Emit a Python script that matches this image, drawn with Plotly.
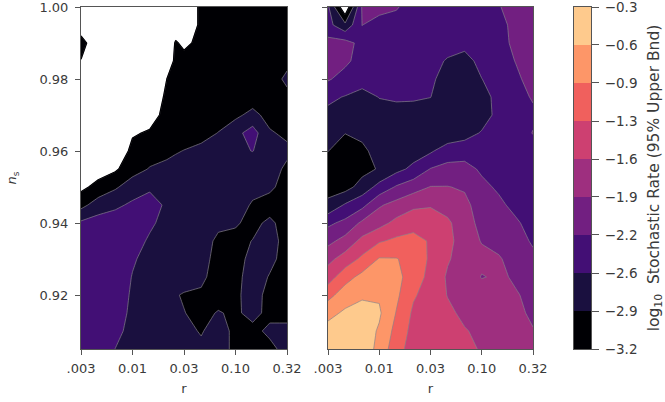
import plotly.graph_objects as go

r_ticks = [-2.5, -2.0, -1.5, -1.0, -0.5]
r_labels = [".003", "0.01", "0.03", "0.10", "0.32"]
ns_ticks = [0.92, 0.94, 0.96, 0.98, 1.00]
ns_labels = ["0.92", "0.94", "0.96", "0.98", "1.00"]
cbar_levels = [-3.2, -2.878, -2.556, -2.233, -1.911, -1.589, -1.267, -0.944, -0.622, -0.3]
cbar_labels = ["−3.2", "−2.9", "−2.6", "−2.2", "−1.9", "−1.6", "−1.3", "−0.9", "−0.6", "−0.3"]
band_colors = ["#000004", "#1a103f", "#420f75", "#721f81", "#9e2f7f", "#cd4071", "#f1605d", "#fd9668", "#feca8d"]

ns_rows = [0.905, 0.91, 0.915, 0.92, 0.925, 0.93, 0.935, 0.94, 0.945, 0.95,
           0.955, 0.96, 0.965, 0.97, 0.975, 0.98, 0.985, 0.99, 0.995, 1.0]

r_left = [-2.5, -2.333, -2.167, -2.0, -1.833, -1.667, -1.581, -1.5, -1.333, -1.167, -1.0, -0.833, -0.667, -0.5]
z_left_cols = [
    [-2.35, -2.35, -2.35, -2.35, -2.35, -2.35, -2.37, -2.5, -2.98, -3.28, -3.5, -3.5, -3.5, -3.5, -3.5, -3.5, -3.22, -3.0, -3.5, -3.6],
    [-2.35, -2.35, -2.35, -2.35, -2.35, -2.35, -2.35, -2.42, -2.72, -3.1, -3.35, -3.6, -3.6, -3.6, -3.6, -3.6, -3.6, -3.6, -3.6, -3.6],
    [-2.56, -2.45, -2.4, -2.38, -2.36, -2.35, -2.35, -2.38, -2.62, -2.92, -3.25, -3.6, -3.6, -3.6, -3.6, -3.6, -3.6, -3.6, -3.6, -3.6],
    [-2.72, -2.68, -2.63, -2.6, -2.57, -2.52, -2.42, -2.4, -2.5, -2.72, -3.0, -3.07, -3.25, -3.6, -3.6, -3.6, -3.6, -3.6, -3.6, -3.6],
    [-2.8, -2.75, -2.72, -2.7, -2.68, -2.66, -2.6, -2.5, -2.44, -2.6, -2.86, -3.0, -3.15, -3.4, -3.6, -3.6, -3.6, -3.6, -3.6, -3.6],
    [-2.82, -2.8, -2.78, -2.76, -2.72, -2.7, -2.68, -2.66, -2.6, -2.65, -2.8, -2.95, -3.0, -3.05, -3.1, -3.2, -3.5, -3.6, -3.6, -3.6],
    [-2.78, -2.78, -2.82, -2.86, -2.76, -2.72, -2.7, -2.67, -2.63, -2.67, -2.78, -2.9, -3.0, -3.02, -3.04, -3.06, -3.1, -3.15, -3.5, -3.6],
    [-2.75, -2.8, -2.87, -2.9, -2.75, -2.72, -2.7, -2.68, -2.65, -2.68, -2.75, -2.87, -3.0, -3.03, -3.05, -3.07, -3.05, -3.3, -3.6, -3.6],
    [-2.82, -2.9, -2.95, -2.92, -2.82, -2.75, -2.72, -2.7, -2.66, -2.67, -2.72, -2.8, -2.98, -3.0, -3.02, -3.03, -3.05, -3.08, -3.1, -3.1],
    [-2.75, -2.75, -2.86, -2.98, -3.0, -3.0, -2.95, -2.8, -2.72, -2.7, -2.68, -2.66, -2.87, -3.0, -3.02, -3.03, -3.04, -3.05, -3.06, -3.06],
    [-2.95, -2.95, -2.92, -2.95, -2.98, -3.0, -2.95, -2.85, -2.7, -2.65, -2.62, -2.6, -2.65, -2.95, -3.0, -3.02, -3.03, -3.04, -3.05, -3.05],
    [-3.0, -2.95, -2.8, -2.72, -2.72, -2.78, -2.87, -2.95, -2.92, -2.76, -2.72, -2.55, -2.42, -2.78, -3.05, -3.05, -3.05, -3.05, -3.05, -3.05],
    [-2.95, -2.82, -2.95, -3.0, -2.9, -2.8, -2.75, -2.82, -3.0, -2.82, -2.72, -2.68, -2.84, -3.0, -3.1, -3.1, -3.1, -3.1, -3.1, -3.1],
    [-2.78, -2.78, -3.0, -3.0, -3.0, -3.0, -3.0, -3.0, -3.0, -3.0, -2.95, -2.8, -2.95, -3.05, -3.0, -2.78, -3.0, -3.1, -3.1, -3.1],
]

r_right = [-2.5, -2.333, -2.167, -2.0, -1.833, -1.667, -1.5, -1.333, -1.167, -1.0, -0.833, -0.667, -0.5]
z_right_cols = [
    [-0.35, -0.5, -0.72, -1.05, -1.42, -1.68, -2.0, -2.3, -2.8, -3.0, -3.05, -2.87, -2.78, -2.62, -2.5, -2.2, -2.12, -2.13, -2.45, -2.5],
    [-0.35, -0.4, -0.57, -0.78, -1.07, -1.45, -1.8, -2.15, -2.52, -3.0, -3.1, -3.05, -2.87, -2.7, -2.57, -2.35, -2.17, -2.12, -2.8, -3.5],
    [-0.42, -0.45, -0.5, -0.67, -0.85, -1.2, -1.5, -1.85, -2.33, -2.75, -2.98, -2.95, -2.8, -2.72, -2.62, -2.48, -2.36, -2.33, -2.23, -2.2],
    [-0.72, -0.66, -0.58, -0.66, -0.8, -0.92, -1.3, -1.7, -1.95, -2.45, -2.85, -2.75, -2.72, -2.62, -2.55, -2.42, -2.4, -2.38, -2.33, -2.15],
    [-1.15, -1.05, -0.96, -0.88, -0.84, -0.93, -1.2, -1.5, -1.8, -2.2, -2.65, -2.75, -2.72, -2.65, -2.52, -2.45, -2.42, -2.4, -2.38, -2.2],
    [-1.4, -1.37, -1.32, -1.23, -1.12, -1.05, -1.15, -1.4, -1.65, -2.05, -2.48, -2.7, -2.75, -2.64, -2.53, -2.48, -2.46, -2.45, -2.43, -2.4],
    [-1.48, -1.45, -1.42, -1.4, -1.35, -1.32, -1.3, -1.4, -1.62, -1.9, -2.22, -2.6, -2.78, -2.72, -2.55, -2.5, -2.47, -2.45, -2.42, -2.4],
    [-1.5, -1.5, -1.53, -1.6, -1.63, -1.56, -1.5, -1.53, -1.72, -1.9, -2.15, -2.38, -2.8, -2.8, -2.75, -2.68, -2.58, -2.45, -2.42, -2.42],
    [-1.5, -1.57, -1.65, -1.68, -1.7, -1.72, -1.74, -1.78, -1.82, -1.95, -2.13, -2.37, -2.68, -2.72, -2.76, -2.78, -2.68, -2.45, -2.4, -2.42],
    [-1.62, -1.65, -1.7, -1.72, -1.93, -1.82, -1.93, -2.0, -2.08, -2.16, -2.28, -2.4, -2.53, -2.7, -2.68, -2.56, -2.45, -2.38, -2.36, -2.38],
    [-1.72, -1.75, -1.78, -1.82, -1.86, -1.89, -1.98, -2.06, -2.17, -2.28, -2.38, -2.42, -2.44, -2.46, -2.45, -2.43, -2.4, -2.36, -2.32, -2.25],
    [-1.82, -1.85, -1.86, -1.89, -1.95, -2.0, -2.08, -2.19, -2.32, -2.38, -2.4, -2.4, -2.4, -2.38, -2.36, -2.3, -2.22, -2.15, -2.15, -2.12],
    [-1.85, -1.9, -1.95, -1.98, -2.03, -2.15, -2.28, -2.35, -2.38, -2.4, -2.4, -2.38, -2.22, -2.3, -2.2, -2.1, -2.08, -2.05, -2.05, -2.05],
]


def rows(cols):
    return [list(v) for v in zip(*cols)]


# Stepped colour scale: index 0 is the band under the lowest level (white).
all_bands = ["#ffffff"] + band_colors + [band_colors[-1]]
n = len(all_bands) - 1
scale = []
for k, c in enumerate(all_bands):
    scale.append([max(0, (k - 0.5) / n), c])
    scale.append([min(1, (k + 0.5) / n), c])

contour_cfg = dict(start=-3.2, end=-0.3, size=0.32222, coloring="fill", showlines=True)
line_cfg = dict(color="rgba(135,130,140,0.85)", width=0.8, smoothing=0)
edge_cfg = dict(start=-3.2, end=-3.2, size=1, coloring="none", showlines=True)
edge_line = dict(color="#000004", width=1.2, smoothing=0)

fig = go.Figure()
for xs, zc, xa_id, ya_id in [(r_left, z_left_cols, "x", "y"), (r_right, z_right_cols, "x2", "y2")]:
    fig.add_trace(go.Contour(x=xs, y=ns_rows, z=rows(zc), autocontour=False, contours=contour_cfg,
                             colorscale=scale, showscale=False, line=line_cfg, xaxis=xa_id, yaxis=ya_id))
    fig.add_trace(go.Contour(x=xs, y=ns_rows, z=rows(zc), autocontour=False, contours=edge_cfg,
                             showscale=False, line=edge_line, hoverinfo="skip", xaxis=xa_id, yaxis=ya_id))
fig.add_trace(go.Heatmap(x=[0, 1], y=cbar_levels,
                         z=[[-3.04], [-2.72], [-2.39], [-2.07], [-1.75], [-1.43], [-1.11], [-0.78], [-0.46]],
                         colorscale=[[i / 8, c] for i, c in enumerate(band_colors)], showscale=False,
                         hoverinfo="skip", xaxis="x3", yaxis="y3"))

W, H = 665, 402
dy = [1 - 349 / H, 1 - 7 / H]
FONT = "DejaVu Sans"
TXT = "#3a3a3a"
axis = dict(showgrid=False, zeroline=False, showline=True, mirror=True, linecolor="#555555", linewidth=1,
            ticks="outside", ticklen=5, tickwidth=1, tickcolor="#555555", automargin=False,
            ticklabeloverflow="allow",
            tickfont=dict(family=FONT, size=13, color=TXT))
xa = dict(axis, range=[-2.5, -0.5], tickmode="array", tickvals=r_ticks, ticktext=r_labels, ticklabelstandoff=2,
          title=dict(text="r", font=dict(family=FONT, size=13, color=TXT), standoff=9))
ya = dict(axis, range=[0.905, 1.0], tickmode="array", tickvals=ns_ticks, ticklabelstandoff=4)

fig.update_layout(
    width=W, height=H, autosize=False, margin=dict(l=0, r=0, t=0, b=0),
    paper_bgcolor="white", plot_bgcolor="white", showlegend=False,
    xaxis=dict(xa, domain=[81 / W, 287 / W], anchor="y"),
    xaxis2=dict(xa, domain=[328 / W, 533 / W], anchor="y2"),
    xaxis3=dict(domain=[574 / W, 591 / W], anchor="y3", range=[0, 1], showticklabels=False, ticks="", automargin=False,
                showgrid=False, zeroline=False, showline=True, mirror=True, linecolor="#555555"),
    yaxis=dict(ya, domain=dy, anchor="x", ticktext=ns_labels,
               title=dict(text="<i>n</i><sub>s</sub>", font=dict(family=FONT, size=13, color=TXT), standoff=19)),
    yaxis2=dict(ya, domain=dy, anchor="x2", showticklabels=False),
    yaxis3=dict(axis, domain=dy, anchor="x3", side="right", range=[-3.2, -0.3], tickmode="array",
                tickvals=cbar_levels, ticktext=cbar_labels, ticklen=7, ticklabelstandoff=3,
                tickfont=dict(family=FONT, size=13.5, color=TXT),
                title=dict(text="log<sub>10</sub>  Stochastic Rate (95% Upper Bnd)",
                           font=dict(family=FONT, size=15.5, color=TXT), standoff=20)),
)
fig.write_html("out.html", config=dict(displayModeBar=False), post_script="document.body.style.margin='0';")
